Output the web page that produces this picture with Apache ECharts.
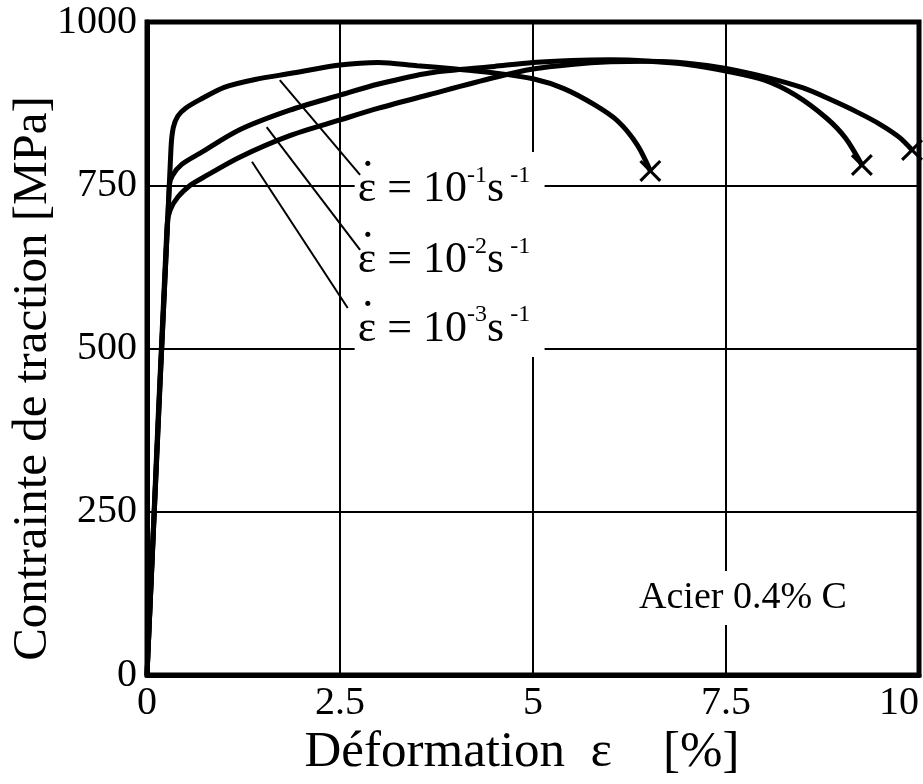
<!DOCTYPE html>
<html>
<head>
<meta charset="utf-8">
<script src="https://cdn.jsdelivr.net/npm/echarts@6/dist/echarts.min.js"></script>
<style>
html,body{margin:0;padding:0;background:#fff;}
#c{width:923px;height:784px;}
</style>
</head>
<body>
<div id="c"></div>
<script>
// ---- data (strain %, stress MPa) ----
const xTicks = [0, 2.5, 5, 7.5, 10];
const yTicks = [0, 250, 500, 750, 1000];
const xTickLabels = ['0', '2.5', '5', '7.5', '10'];
const yTickLabels = ['0', '250', '500', '750', '1000'];

const curveRate1 = [[0,0],[0.31,805],[0.34,838],[0.40,856],[0.5,868],[0.7,882],[1.0,900],[1.4,912],[1.85,921],[2.5,934],[3.0,938],[3.5,933],[4.0,928],[4.5,922],[5.0,913],[5.4,898],[5.8,873],[6.1,848],[6.35,812],[6.52,772]];
const curveRate2 = [[0,0],[0.29,750],[0.33,765],[0.45,782],[0.7,800],[1.2,835],[1.85,865],[2.5,888],[3.0,905],[3.66,922],[4.5,932],[5.0,938],[5.5,941],[6.0,942],[6.5,940],[7.0,935],[7.5,925],[8.0,911],[8.4,888],[8.8,853],[9.05,822],[9.26,781]];
const curveRate3 = [[0,0],[0.26,690],[0.30,712],[0.40,732],[0.56,750],[0.7,760],[1.2,793],[1.85,826],[2.5,850],[3.0,868],[3.66,889],[4.5,915],[5.0,928],[5.5,935],[6.0,939],[6.5,940],[7.0,937],[7.5,929],[8.0,916],[8.5,899],[8.84,882],[9.2,862],[9.5,843],[9.75,823],[9.91,804]];

const rateExponents = ['-1', '-2', '-3'];
const leader1 = [[1.72,911],[2.76,766]];
const leader2 = [[1.55,839],[2.76,651]];
const leader3 = [[1.36,786],[2.60,562]];
const rateLabelAnchors = [[2.73,747],[2.73,638],[2.73,533]];
const maskBox = [[2.69,487],[5.15,801]];
const materialLabel = 'Acier 0.4% C';
const materialAnchor = [7.72,118];

const FONT = 'Liberation Serif';
const chart = echarts.init(document.getElementById('c'), null, {renderer:'canvas'});

const xPath = 'path://M0,2L2,0L10,8L18,0L20,2L12,10L20,18L18,20L10,12L2,20L0,18L8,10Z';

function curveSeries(name, data) {
  return {
    name: name, type: 'line', data: data, smooth: 0.3, showSymbol: false, symbol: 'none',
    lineStyle: {color: '#000', width: 5}, z: 3, silent: true, animation: false
  };
}
function leaderSeries(data) {
  return {
    type: 'line', data: data, showSymbol: false, symbol: 'none',
    lineStyle: {color: '#000', width: 2}, z: 3, silent: true, animation: false
  };
}

const option = {
  animation: false,
  backgroundColor: '#fff',
  grid: {left: 147, right: 4, top: 22, bottom: 109, show: true, borderColor: '#000', borderWidth: 5,
    containLabel: false, outerBoundsMode: 'none'},
  xAxis: {
    type: 'value', min: 0, max: 10, interval: 2.5,
    name: 'Déformation  ε    [%]', nameLocation: 'middle', nameGap: 52, nameMoveOverlap: false,
    nameTextStyle: {fontFamily: FONT, fontSize: 51, color: '#000', padding: [0, 22, 0, 0]},
    axisLine: {show: true, lineStyle: {color: '#000', width: 5}},
    axisTick: {show: false},
    axisLabel: {fontFamily: FONT, fontSize: 40, color: '#000', margin: 8, alignMaxLabel: 'right',
      formatter: function(v){ const i = xTicks.indexOf(v); return i >= 0 ? xTickLabels[i] : ''; }},
    splitLine: {show: true, lineStyle: {color: '#000', width: 2}}
  },
  yAxis: {
    type: 'value', min: 0, max: 1000, interval: 250,
    name: 'Contrainte de traction [MPa]', nameLocation: 'middle', nameGap: 89, nameMoveOverlap: false,
    nameTextStyle: {fontFamily: FONT, fontSize: 49, color: '#000', padding: [0, 60, 0, 0]},
    axisLine: {show: true, lineStyle: {color: '#000', width: 5}},
    axisTick: {show: false},
    axisLabel: {fontFamily: FONT, fontSize: 40, color: '#000', margin: 10,
      formatter: function(v){ const i = yTicks.indexOf(v); return i >= 0 ? yTickLabels[i] : ''; }},
    splitLine: {show: true, lineStyle: {color: '#000', width: 2}}
  },
  series: [
    {
      type: 'line', data: [], z: 1, silent: true,
      markArea: {silent: true, itemStyle: {color: '#fff', opacity: 1},
        data: [[{coord: maskBox[0]}, {coord: maskBox[1]}]]}
    },
    curveSeries('10^-1', curveRate1),
    curveSeries('10^-2', curveRate2),
    curveSeries('10^-3', curveRate3),
    leaderSeries(leader1),
    leaderSeries(leader2),
    leaderSeries(leader3),
    {
      type: 'scatter', z: 4, silent: true, symbol: xPath, symbolSize: 22,
      itemStyle: {color: '#000', opacity: 1},
      data: [curveRate1[curveRate1.length-1], curveRate2[curveRate2.length-1], curveRate3[curveRate3.length-1]]
    },
    {
      type: 'scatter', z: 5, silent: true, symbolSize: 0, itemStyle: {opacity: 1},
      data: rateLabelAnchors,
      label: {
        show: true, position: 'right', distance: 0, color: '#000',
        formatter: function(p){ const e = rateExponents[p.dataIndex]; return '{b|\u03B5 = 10}{s|' + e + '}{b|s}{s| -1}'; },
        rich: {
          b: {fontFamily: FONT, fontSize: 44, color: '#000', lineHeight: 48, verticalAlign: 'bottom'},
          s: {fontFamily: FONT, fontSize: 24, color: '#000', lineHeight: 48, verticalAlign: 'top'}
        }
      }
    },
    {
      // dot over epsilon (time derivative)
      type: 'scatter', z: 6, silent: true, symbolSize: 0, itemStyle: {opacity: 1},
      data: rateLabelAnchors,
      label: {show: true, position: 'right', distance: 0, offset: [2, -7], formatter: '\u02D9',
        fontFamily: FONT, fontSize: 48, color: '#000'}
    },
    {
      type: 'scatter', z: 5, silent: true, symbolSize: 0, itemStyle: {opacity: 1},
      data: [materialAnchor],
      label: {show: true, position: 'inside', formatter: materialLabel,
        fontFamily: FONT, fontSize: 38, color: '#000', backgroundColor: '#fff', padding: [8, 6]}
    }
  ]
};
chart.setOption(option);
</script>
</body>
</html>
